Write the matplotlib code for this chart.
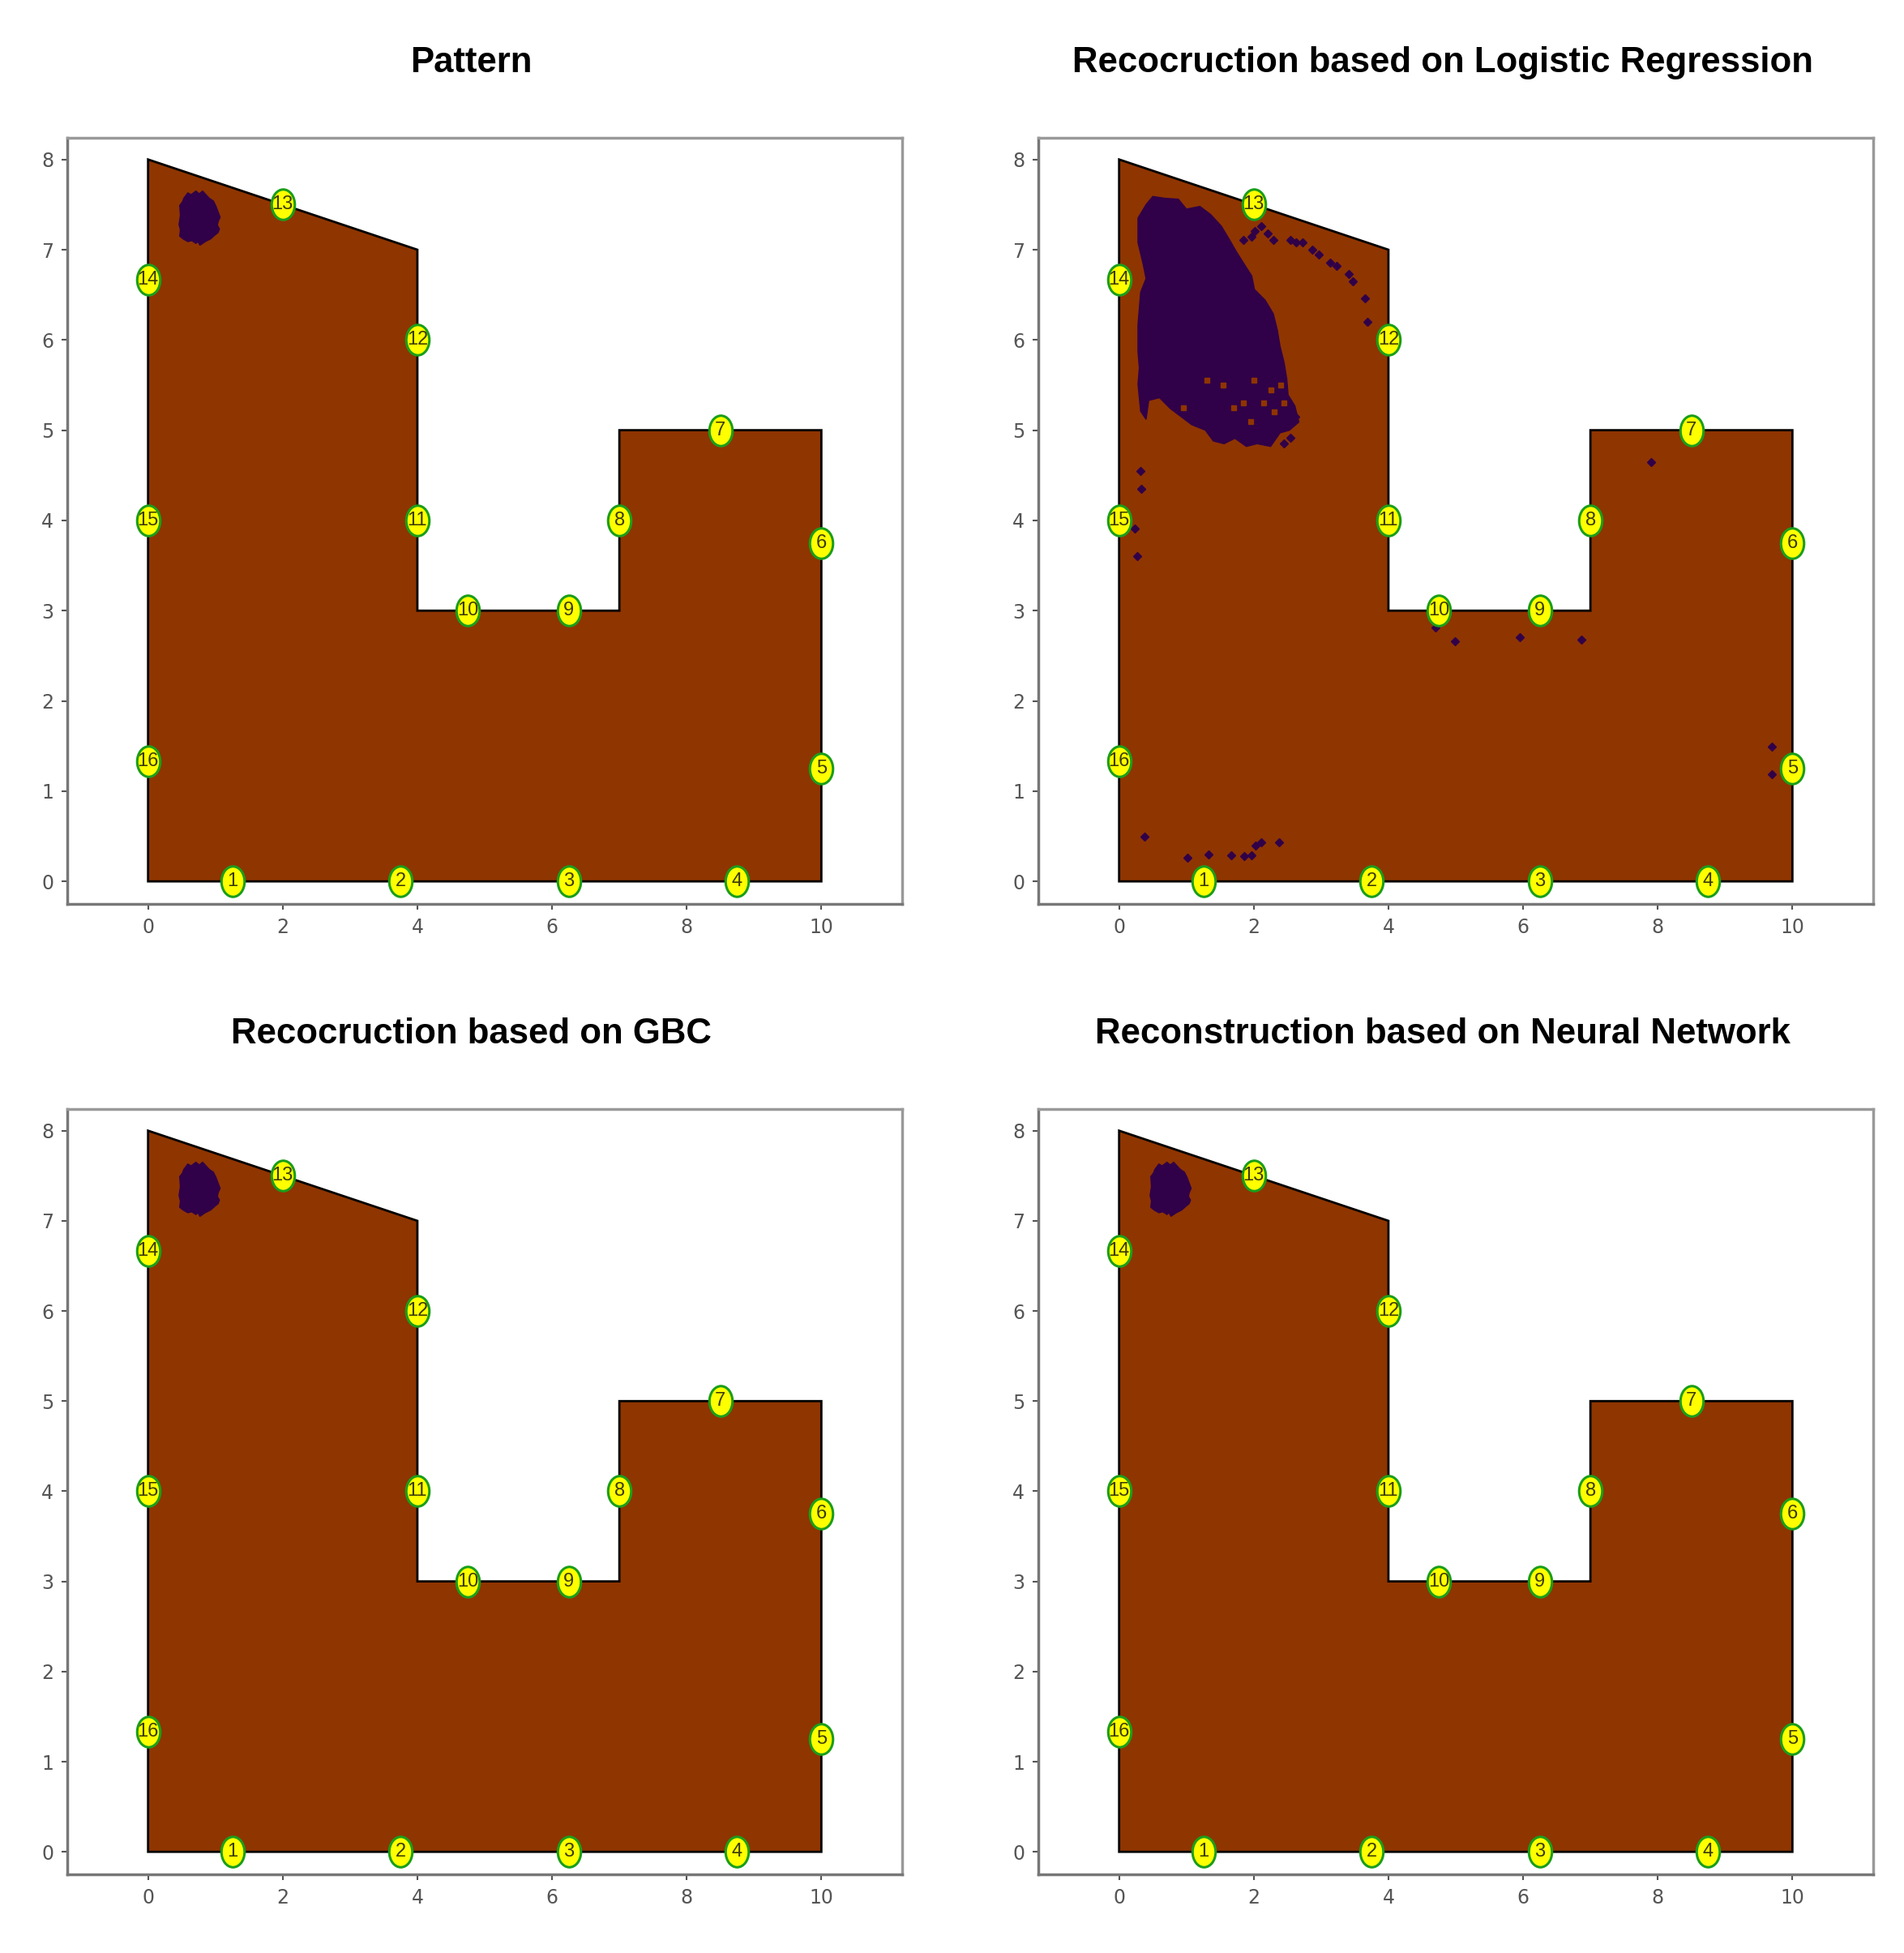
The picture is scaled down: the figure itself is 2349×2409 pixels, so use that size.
import matplotlib
matplotlib.use("Agg")
import matplotlib.pyplot as plt
from matplotlib.patches import Polygon
from matplotlib.path import Path
from matplotlib.transforms import Affine2D

# ---------------- data ----------------
titles = ["Pattern",
          "Recocruction based on Logistic Regression",
          "Recocruction based on GBC",
          "Reconstruction based on Neural Network"]

plate_x = [0, 10, 10, 7, 7, 4, 4, 0]
plate_y = [0, 0, 5, 5, 3, 3, 7, 8]

sensor_ids = [1, 2, 3, 4, 5, 6, 7, 8, 9, 10, 11, 12, 13, 14, 15, 16]
sensor_x = [1.25, 3.75, 6.25, 8.75, 10, 10, 8.5, 7, 6.25, 4.75, 4, 4, 2, 0, 0, 0]
sensor_y = [0, 0, 0, 0, 1.25, 3.75, 5, 4, 3, 3, 4, 6, 7.5, 6.67, 4, 1.33]

# small damage region (pattern, GBC, NN)
damage_small_x = [0.59, 0.64, 0.71, 0.76, 0.81, 0.86, 0.91, 0.97, 1.01, 1.04, 1.07,
                  1.04, 1.03, 1.06, 1.04, 0.99, 0.93, 0.85, 0.77, 0.74, 0.71, 0.65,
                  0.59, 0.52, 0.47, 0.48, 0.46, 0.48, 0.47, 0.51, 0.53, 0.56]
damage_small_y = [7.63, 7.61, 7.65, 7.62, 7.65, 7.61, 7.57, 7.54, 7.48, 7.42, 7.36,
                  7.31, 7.27, 7.23, 7.19, 7.16, 7.12, 7.09, 7.05, 7.09, 7.07, 7.10,
                  7.09, 7.12, 7.15, 7.22, 7.28, 7.38, 7.49, 7.53, 7.57, 7.60]

# large predicted region (logistic regression)
damage_lr_x = [0.50, 0.68, 0.88, 1.00, 1.20, 1.36, 1.52, 1.64, 1.74, 1.85, 1.97,
               2.01, 2.17, 2.29, 2.35, 2.39, 2.45, 2.49, 2.51, 2.61, 2.67, 2.53,
               2.39, 2.25, 2.05, 1.89, 1.72, 1.56, 1.40, 1.28, 1.08, 0.92, 0.76,
               0.60, 0.44, 0.40, 0.32, 0.28, 0.30, 0.28, 0.28, 0.32, 0.40, 0.36,
               0.28, 0.28, 0.40]
damage_lr_y = [7.59, 7.57, 7.56, 7.45, 7.48, 7.39, 7.26, 7.11, 6.98, 6.85, 6.71,
               6.56, 6.44, 6.29, 6.11, 5.93, 5.75, 5.57, 5.39, 5.27, 5.09, 5.00,
               4.97, 4.82, 4.85, 4.82, 4.91, 4.85, 4.88, 5.00, 5.06, 5.15, 5.24,
               5.36, 5.33, 5.12, 5.21, 5.51, 5.69, 5.87, 6.17, 6.53, 6.68, 6.83,
               7.08, 7.35, 7.50]

# scattered misclassified points (logistic regression)
scatter_lr_x = [1.85, 1.97, 2.01, 2.11, 2.21, 2.29, 2.55, 2.63, 2.73, 2.87, 2.97,
                3.13, 3.23, 3.41, 3.47, 3.65, 3.69, 0.32, 0.23, 0.27, 0.33, 0.38,
                1.02, 1.33, 1.67, 1.86, 1.97, 2.03, 2.11, 2.38, 4.70, 4.99, 5.95,
                6.87, 9.69, 9.69, 7.90, 2.62, 2.55, 2.45]
scatter_lr_y = [7.11, 7.14, 7.21, 7.26, 7.18, 7.11, 7.11, 7.08, 7.08, 7.00, 6.95,
                6.86, 6.82, 6.73, 6.65, 6.46, 6.20, 4.55, 3.91, 3.60, 4.35, 0.50,
                0.26, 0.30, 0.29, 0.28, 0.29, 0.40, 0.43, 0.43, 2.81, 2.66, 2.71,
                2.68, 1.49, 1.19, 4.65, 5.15, 4.92, 4.85]

# holes (correctly classified spots) inside the large region
holes_lr_x = [1.30, 1.55, 2.00, 2.25, 2.40, 1.70, 2.30, 1.95, 2.15, 0.75, 0.95,
              1.85, 2.45]
holes_lr_y = [5.55, 5.50, 5.55, 5.45, 5.50, 5.25, 5.20, 5.10, 5.30, 5.10, 5.25,
              5.30, 5.30]

# ---------------- styling ----------------
BROWN = "#8f3500"
PURPLE = "#300048"
W, H = 2349, 2409
fig = plt.figure(figsize=(W / 100, H / 100), dpi=100)

positions = [
    [83 / W, (H - 1115) / H, 1030 / W, 945 / H],
    [1281 / W, (H - 1115) / H, 1030 / W, 945 / H],
    [83 / W, (H - 2312) / H, 1030 / W, 944 / H],
    [1281 / W, (H - 2312) / H, 1030 / W, 944 / H],
]

ellipse_marker = Path.unit_circle().transformed(Affine2D().scale(0.76, 1.0))

for i, pos in enumerate(positions):
    ax = fig.add_axes(pos)
    ax.set_xlim(-1.2, 11.2)
    ax.set_ylim(-0.25, 8.24)

    ax.add_patch(Polygon(list(zip(plate_x, plate_y)), closed=True,
                         facecolor=BROWN, edgecolor="black", linewidth=2.0, zorder=1))

    if i == 1:
        ax.add_patch(Polygon(list(zip(damage_lr_x, damage_lr_y)), closed=True,
                             facecolor=PURPLE, edgecolor=PURPLE, linewidth=1, zorder=2))
        ax.plot(holes_lr_x, holes_lr_y, linestyle="none", marker="s",
                markersize=5, color=BROWN, zorder=2.5)
        ax.plot(scatter_lr_x, scatter_lr_y, linestyle="none", marker="D",
                markersize=5, color=PURPLE, zorder=2.5)
    else:
        ax.add_patch(Polygon(list(zip(damage_small_x, damage_small_y)), closed=True,
                             facecolor=PURPLE, edgecolor=PURPLE, linewidth=1, zorder=2))

    ax.plot(sensor_x, sensor_y, linestyle="none", marker=ellipse_marker,
            markersize=27, markerfacecolor="#ffff00", markeredgecolor="#1a9e1a",
            markeredgewidth=2.2, zorder=3)
    for sid, sx, sy in zip(sensor_ids, sensor_x, sensor_y):
        ax.text(sx, sy, str(sid), ha="center", va="center", fontsize=17,
                color="#3a3a00", zorder=4,
                family=["Liberation Sans Narrow", "Liberation Sans", "DejaVu Sans"])

    ax.set_xticks([0, 2, 4, 6, 8, 10])
    ax.set_yticks([0, 1, 2, 3, 4, 5, 6, 7, 8])
    ax.tick_params(labelsize=17, colors="#555555", length=5, width=1.5, pad=7)
    for side, sp in ax.spines.items():
        sp.set_linewidth(2.5)
        sp.set_color("#999999" if side in ("top", "right") else "#777777")

    ax.set_title(titles[i], fontsize=31.5, fontweight="bold",
                 family=["Liberation Sans", "DejaVu Sans"], pad=58, x=0.484)

fig.savefig("out.png", dpi=100, facecolor="white")
